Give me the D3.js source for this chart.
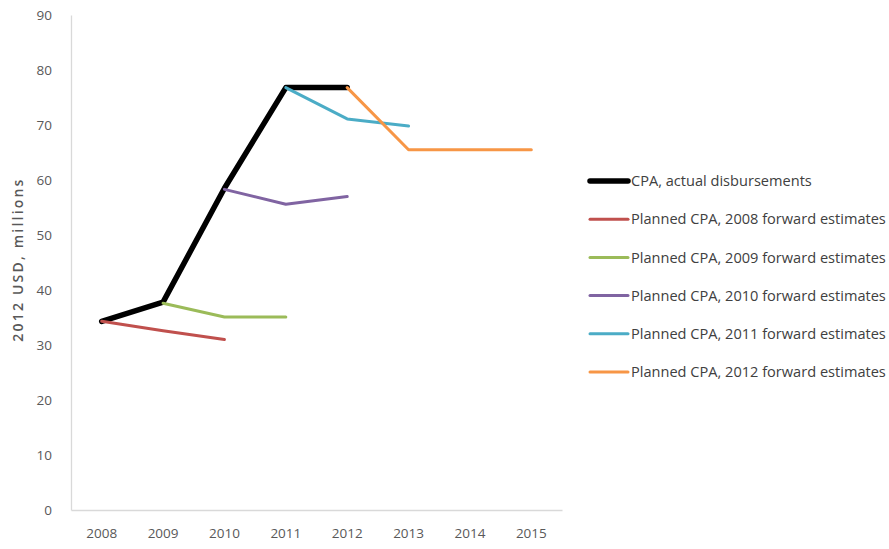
<!DOCTYPE html>
<html>
<head>
<meta charset="utf-8">
<script src="https://cdn.jsdelivr.net/npm/d3@7/dist/d3.min.js"></script>
<style>
  html, body { margin: 0; padding: 0; background: #fff; }
  svg { display: block; }
  text { font-family: "Open Sans", "Liberation Sans", sans-serif; }
</style>
</head>
<body>
<svg id="chart" width="889" height="549"></svg>
<script>
// Years on the category axis
const years = ["2008", "2009", "2010", "2011", "2012", "2013", "2014", "2015"];
const yTicks = [0, 10, 20, 30, 40, 50, 60, 70, 80, 90];

// Actual disbursements and forward estimates (2012 USD, millions)
const actualYears = ["2008", "2009", "2010", "2011", "2012"];
const actualValues = [34.3, 37.8, 58.5, 76.8, 76.8];

const fe2008Years = ["2008", "2009", "2010"];
const fe2008Values = [34.3, 32.6, 31.0];

const fe2009Years = ["2009", "2010", "2011"];
const fe2009Values = [37.6, 35.1, 35.1];

const fe2010Years = ["2010", "2011", "2012"];
const fe2010Values = [58.3, 55.6, 57.0];

const fe2011Years = ["2011", "2012", "2013"];
const fe2011Values = [76.8, 71.1, 69.8];

const fe2012Years = ["2012", "2013", "2014", "2015"];
const fe2012Values = [76.8, 65.5, 65.5, 65.5];

const seriesNames = [
  "CPA, actual disbursements",
  "Planned CPA, 2008 forward estimates",
  "Planned CPA, 2009 forward estimates",
  "Planned CPA, 2010 forward estimates",
  "Planned CPA, 2011 forward estimates",
  "Planned CPA, 2012 forward estimates"
];
const seriesColors = ["#000000", "#c0504d", "#9bbb59", "#8064a2", "#4bacc6", "#f79646"];
const seriesWidths = [5.5, 3, 3, 3, 3, 3];

const series = [
  { years: actualYears, values: actualValues },
  { years: fe2008Years, values: fe2008Values },
  { years: fe2009Years, values: fe2009Values },
  { years: fe2010Years, values: fe2010Values },
  { years: fe2011Years, values: fe2011Values },
  { years: fe2012Years, values: fe2012Values }
].map((s, i) => ({
  name: seriesNames[i], color: seriesColors[i], width: seriesWidths[i],
  points: s.years.map((yr, j) => ({ year: yr, value: s.values[j] }))
}));

const svg = d3.select("#chart");
const plot = { left: 71, right: 562, top: 15, bottom: 510 };

const x = d3.scaleBand().domain(years).range([plot.left, plot.right]).paddingInner(0).paddingOuter(0);
const y = d3.scaleLinear().domain([0, 90]).range([plot.bottom, plot.top]);
const cx = d => x(d) + x.bandwidth() / 2;

// Axes
const xAxis = svg.append("g").attr("transform", `translate(0,${plot.bottom})`)
  .call(d3.axisBottom(x).tickSize(0).tickPadding(18));
xAxis.select(".domain").attr("stroke", "#d9d9d9").attr("stroke-width", 1.3);
xAxis.selectAll("text").attr("fill", "#595959").style("font-size", "13.5px")
  .style("font-family", "'Open Sans', sans-serif");

const yAxis = svg.append("g").attr("transform", `translate(${plot.left},0)`)
  .call(d3.axisLeft(y).tickValues(yTicks).tickSize(0).tickPadding(19));
yAxis.select(".domain").attr("stroke", "#d9d9d9").attr("stroke-width", 1.3);
yAxis.selectAll("text").attr("fill", "#595959").style("font-size", "13.5px")
  .style("font-family", "'Open Sans', sans-serif");

// Axis title
svg.append("text")
  .attr("transform", `translate(23,${(plot.top + plot.bottom) / 2 - 3}) rotate(-90)`)
  .attr("text-anchor", "middle")
  .attr("fill", "#595959")
  .style("font-size", "14px")
  .style("font-weight", 600)
  .style("letter-spacing", "2.2px")
  .text("2012 USD, millions");

// Lines
const line = d3.line().x(d => cx(d.year)).y(d => y(d.value));
svg.append("g").selectAll("path").data(series).join("path")
  .attr("d", d => line(d.points))
  .attr("fill", "none")
  .attr("stroke", d => d.color)
  .attr("stroke-width", d => d.width)
  .attr("stroke-linejoin", "round")
  .attr("stroke-linecap", "round");

// Legend
const legend = svg.append("g").selectAll("g").data(series).join("g")
  .attr("transform", (d, i) => `translate(590,${181 + i * 38.2})`);
legend.append("line")
  .attr("x1", 0).attr("x2", 38).attr("y1", 0).attr("y2", 0)
  .attr("stroke", d => d.color)
  .attr("stroke-width", d => d.width)
  .attr("stroke-linecap", "round");
const labels = legend.append("text")
  .attr("x", 41).attr("y", 0).attr("dy", "0.35em")
  .attr("fill", "#404040")
  .style("font-size", "14px")
  .text(d => d.name);

// Size the legend text so the longest entry fills the space up to the right edge
const widest = d3.max(labels.nodes(), n => n.getComputedTextLength());
const fitted = 14 * 255 / widest;
labels.style("font-size", fitted + "px");
</script>
</body>
</html>
